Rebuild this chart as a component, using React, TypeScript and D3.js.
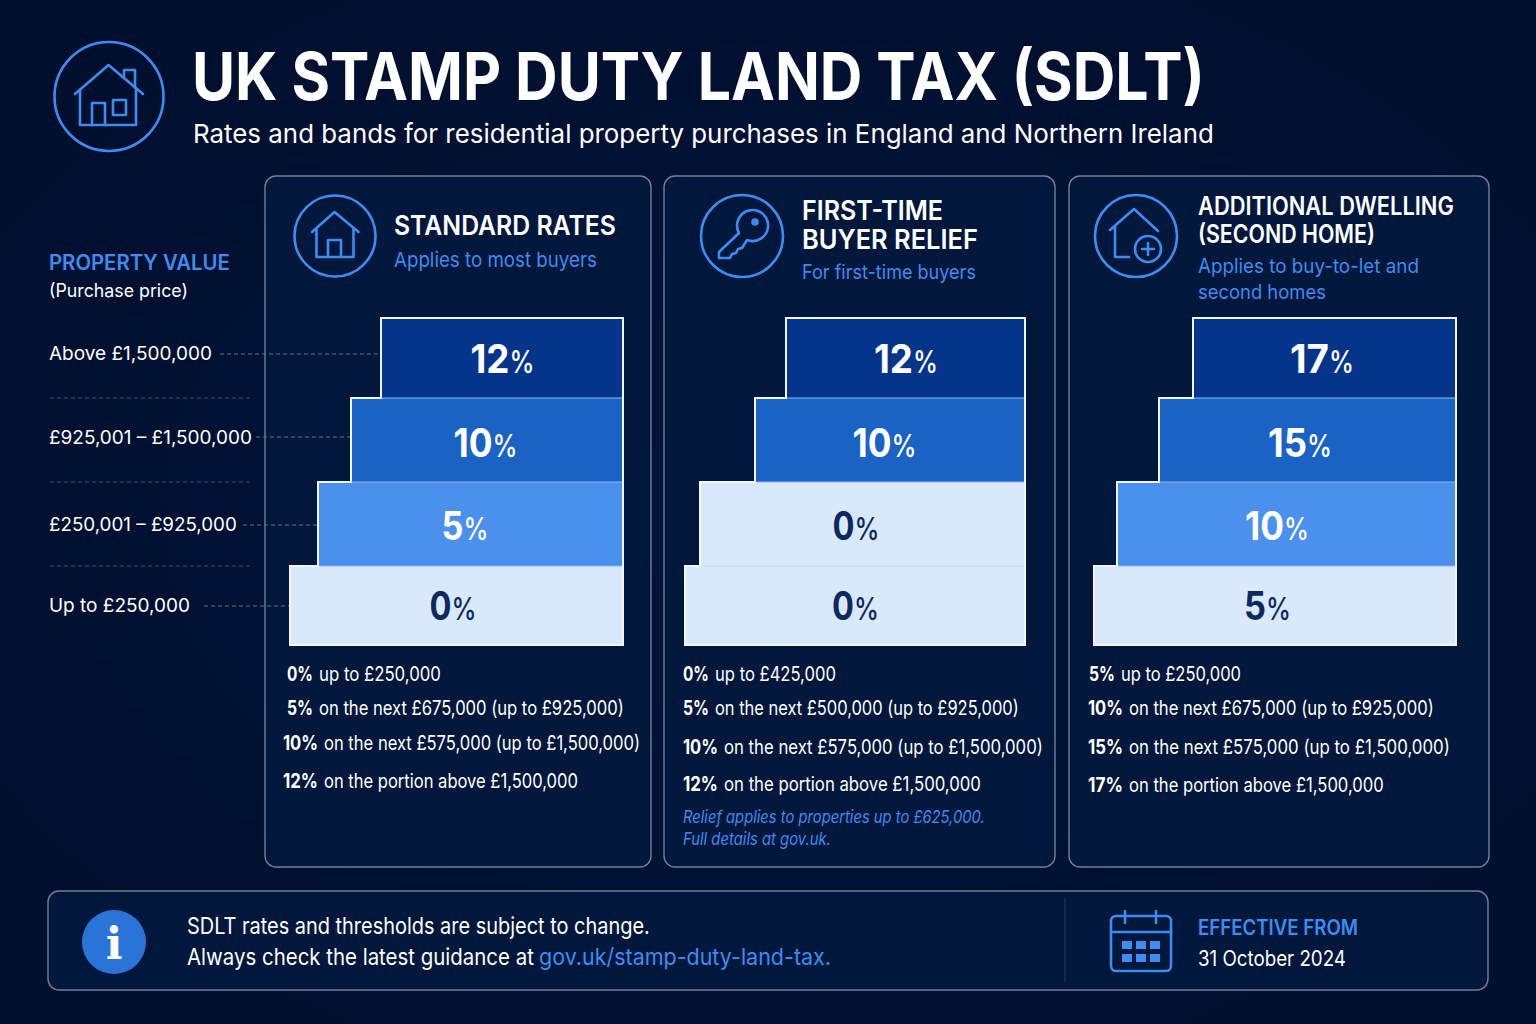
import * as d3 from "d3";
import React from "react";

const BANDS = ["Above £1,500,000", "£925,001 – £1,500,000", "£250,001 – £925,000", "Up to £250,000"];
const STANDARD_RATES = [12, 10, 5, 0];
const FIRST_TIME_RATES = [12, 10, 0, 0];
const ADDITIONAL_RATES = [17, 15, 10, 5];

const STANDARD_NOTES = [
  ["0%", "up to £250,000"],
  ["5%", "on the next £675,000 (up to £925,000)"],
  ["10%", "on the next £575,000 (up to £1,500,000)"],
  ["12%", "on the portion above £1,500,000"],
];
const FIRST_TIME_NOTES = [
  ["0%", "up to £425,000"],
  ["5%", "on the next £500,000 (up to £925,000)"],
  ["10%", "on the next £575,000 (up to £1,500,000)"],
  ["12%", "on the portion above £1,500,000"],
];
const ADDITIONAL_NOTES = [
  ["5%", "up to £250,000"],
  ["10%", "on the next £675,000 (up to £925,000)"],
  ["15%", "on the next £575,000 (up to £1,500,000)"],
  ["17%", "on the portion above £1,500,000"],
];

// layout only below here
const FONT = "Inter, 'Noto Sans', sans-serif";
const BLUE = "#3f8cf0";
const WHITE = "#ffffff";
const INK = "#0c2a5e";
const PALE = "#d9e8fb";
const RAMP = ["#04358a", "#1a63c4", "#4a90ec", PALE];
const BORDER = "#717f98";
const PANEL_FILL = "#01173b";

const stairTop = 318;
const stairBottom = 645;
const bandY = d3.scaleOrdinal<string, number>().domain(BANDS).range([318, 398, 482, 566]);
const bandEdges = (b: string, i: number) => (i === BANDS.length - 1 ? stairBottom : bandY(BANDS[i + 1]));
const LABEL_DROP = [15, 17, 16, 14.5];

const PANELS = [
  {
    x: 265, w: 386, rates: STANDARD_RATES, notes: STANDARD_NOTES, right: 623,
    widths: [242, 272, 305, 333], nudge: [0, -2, -6, -4],
    noteX: [287, 287, 283, 283], noteEnd: [441, 624, 640, 578], noteBase: [681, 715, 750, 788],
  },
  {
    x: 664, w: 391, rates: FIRST_TIME_RATES, notes: FIRST_TIME_NOTES, right: 1025,
    widths: [239, 270, 325, 340], nudge: [0, -6, -7, 0],
    noteX: [683, 683, 683, 683], noteEnd: [836, 1019, 1043, 981], noteBase: [681, 715, 754, 791],
  },
  {
    x: 1069, w: 420, rates: ADDITIONAL_RATES, notes: ADDITIONAL_NOTES, right: 1456,
    widths: [263, 297, 339, 362], nudge: [-3, -8, -10, -8],
    noteX: [1089, 1088, 1088, 1088], noteEnd: [1241, 1434, 1450, 1384], noteBase: [681, 715, 754, 792],
  },
];

const LEADERS = [
  { labelEnd: 212, base: 360, from: 220, y: 354 },
  { labelEnd: 252, base: 444, from: 256, y: 437 },
  { labelEnd: 237, base: 531, from: 243, y: 525 },
  { labelEnd: 190, base: 612, from: 204, y: 606 },
];

const ctx = document.createElement("canvas").getContext("2d")!;
const measure = (s: string, size: number, weight: number, italic: boolean) => {
  ctx.font = `${italic ? "italic " : ""}${weight} ${size}px Inter`;
  return ctx.measureText(s).width;
};

// the picture's type is narrower than Inter, so squeeze each text to its width there
const T = ({ x, end, y, size, weight = 400, fill = WHITE, italic = false, children }: any) => {
  const sx = (end - x) / measure(children, size, weight, italic);
  return (
    <text
      transform={`translate(${x},${y}) scale(${sx},1)`}
      fontFamily={FONT}
      fontSize={size}
      fontWeight={weight}
      fontStyle={italic ? "italic" : "normal"}
      fill={fill}
    >
      {children}
    </text>
  );
};

const Stair = ({ panel }: any) => {
  const widthOf = d3.scaleOrdinal<string, number>().domain(BANDS).range(panel.widths);
  const outline = d3.path();
  outline.moveTo(panel.right, stairBottom);
  outline.lineTo(panel.right, stairTop);
  BANDS.forEach((b, i) => {
    const left = panel.right - widthOf(b);
    outline.lineTo(left, bandY(b));
    outline.lineTo(left, bandEdges(b, i));
  });
  outline.closePath();

  return (
    <g>
      {BANDS.map((b, i) => (
        <rect
          key={b}
          x={panel.right - widthOf(b)}
          y={bandY(b)}
          width={widthOf(b)}
          height={bandEdges(b, i) - bandY(b)}
          fill={panel.rates[i] === 0 ? PALE : RAMP[i]}
        />
      ))}
      {BANDS.slice(1).map((b, i) => (
        <line
          key={b}
          x1={panel.right - widthOf(BANDS[i])}
          x2={panel.right}
          y1={bandY(b)}
          y2={bandY(b)}
          stroke={panel.rates[i] === 0 ? "#c3d6ee" : "#8fb8ee"}
          strokeWidth={1}
        />
      ))}
      <path d={outline.toString()} fill="none" stroke="#f2f6fc" strokeWidth={2} />
      {BANDS.map((b, i) => {
        const rate = panel.rates[i];
        const fill = rate === 0 || i === 3 ? INK : WHITE;
        const numW = String(rate).length === 1 ? 22 : 39;
        const left = panel.right - widthOf(b) / 2 + panel.nudge[i] - (numW + 24) / 2;
        const y = (bandY(b) + bandEdges(b, i)) / 2 + LABEL_DROP[i];
        return (
          <g key={b}>
            <T x={left} end={left + numW} y={y} size={39} weight={700} fill={fill}>{String(rate)}</T>
            <T x={left + numW} end={left + numW + 25} y={y} size={31} weight={500} fill={fill}>%</T>
          </g>
        );
      })}
    </g>
  );
};

const Notes = ({ panel }: any) => (
  <g>
    {panel.notes.map((n: string[], i: number) => {
      const boldW = n[0].length === 2 ? 26 : 35;
      const x = panel.noteX[i];
      return (
        <g key={n[0]}>
          <T x={x} end={x + boldW} y={panel.noteBase[i]} size={20} weight={700}>{n[0]}</T>
          <T x={x + boldW + 6} end={panel.noteEnd[i]} y={panel.noteBase[i]} size={20}>{n[1]}</T>
        </g>
      );
    })}
  </g>
);

const iconProps = { fill: "none", stroke: BLUE, strokeWidth: 2.6, strokeLinejoin: "round" as const, strokeLinecap: "round" as const };

const TitleIcon = () => (
  <g {...iconProps}>
    <circle cx={109} cy={96.5} r={54.5} />
    <path d="M75 94 L108.5 65 L143 94" />
    <path d="M124 78 V70 H135 V88" />
    <path d="M80 90 V125 H136 V90" />
    <path d="M92 125 V103 H105 V125" />
    <rect x={113} y={100} width={13} height={15} />
  </g>
);

const StandardIcon = () => (
  <g {...iconProps}>
    <circle cx={335} cy={236} r={40.5} />
    <path d="M312 232 L334.5 212 L358.5 232" />
    <path d="M316.5 229 V257 H353.5 V229" />
    <path d="M328 257 V240 H341 V257" />
  </g>
);

const KeyIcon = () => (
  <g {...iconProps}>
    <circle cx={742} cy={236} r={41} />
    <path d="M739 233 L719 252 V258 H730 L732 254 L736 253 L738 249 L742 248 L747 240 A15.5 15.5 0 1 0 739 233 Z" />
    <circle cx={755} cy={222} r={2.5} fill={BLUE} />
  </g>
);

const SecondHomeIcon = () => (
  <g {...iconProps}>
    <circle cx={1136} cy={236} r={41} />
    <path d="M1110 230 L1134 209 L1158 231" />
    <path d="M1115 227 V257 H1129" />
    <circle cx={1148} cy={249} r={13} />
    <path d="M1148 243 V255 M1142 249 H1154" />
  </g>
);

const CalendarIcon = () => {
  const cols = [1122, 1136, 1150];
  const rows = [941, 954];
  return (
    <g {...iconProps}>
      <rect x={1111} y={916} width={60} height={55} rx={5} />
      <path d="M1111 932 H1171 M1125 911 V923 M1156 911 V923" />
      {rows.map((r) =>
        cols.map((c) => <rect key={c + "-" + r} x={c} y={r} width={10} height={8} fill={BLUE} stroke="none" />)
      )}
    </g>
  );
};

const App = () => {
  return (
    <svg width={1536} height={1024} style={{ position: "absolute", left: 0, top: 0, display: "block" }}>
      <defs>
        <radialGradient id="bg" cx="50%" cy="50%" r="75%">
          <stop offset="0%" stopColor="#01143a" />
          <stop offset="100%" stopColor="#010e2c" />
        </radialGradient>
      </defs>
      <rect width={1536} height={1024} fill="url(#bg)" />

      <TitleIcon />
      <T x={192} end={1205} y={100} size={66} weight={700}>UK STAMP DUTY LAND TAX (SDLT)</T>
      <T x={193} end={1214} y={143} size={26}>Rates and bands for residential property purchases in England and Northern Ireland</T>

      {PANELS.map((p) => (
        <rect key={p.x} x={p.x} y={176} width={p.w} height={691} rx={11} fill={PANEL_FILL} stroke={BORDER} strokeWidth={1.4} />
      ))}

      <T x={49} end={230} y={270} size={21} weight={600} fill={BLUE}>PROPERTY VALUE</T>
      <T x={49} end={188} y={297} size={18}>(Purchase price)</T>
      {BANDS.map((b, i) => (
        <g key={b}>
          <T x={49} end={LEADERS[i].labelEnd} y={LEADERS[i].base} size={19}>{b}</T>
          <line
            x1={LEADERS[i].from}
            x2={PANELS[0].right - PANELS[0].widths[i]}
            y1={LEADERS[i].y}
            y2={LEADERS[i].y}
            stroke="#5f7190"
            strokeWidth={1}
            strokeDasharray="4 3"
          />
          {i > 0 && (
            <line x1={50} x2={250} y1={bandY(b)} y2={bandY(b)} stroke="#3d4f70" strokeWidth={1} strokeDasharray="4 3" />
          )}
        </g>
      ))}

      <StandardIcon />
      <T x={394} end={616} y={235} size={27} weight={600}>STANDARD RATES</T>
      <T x={394} end={597} y={267} size={20.5} fill={BLUE}>Applies to most buyers</T>

      <KeyIcon />
      <T x={802} end={943} y={220} size={27} weight={600}>FIRST-TIME</T>
      <T x={802} end={978} y={249} size={27} weight={600}>BUYER RELIEF</T>
      <T x={802} end={976} y={279} size={20} fill={BLUE}>For first-time buyers</T>

      <SecondHomeIcon />
      <T x={1198} end={1454} y={215} size={25} weight={600}>ADDITIONAL DWELLING</T>
      <T x={1198} end={1375} y={243} size={25} weight={600}>(SECOND HOME)</T>
      <T x={1198} end={1419} y={273} size={20} fill={BLUE}>Applies to buy-to-let and</T>
      <T x={1198} end={1326} y={299} size={20} fill={BLUE}>second homes</T>

      {PANELS.map((p) => (
        <g key={p.x}>
          <Stair panel={p} />
          <Notes panel={p} />
        </g>
      ))}

      <T x={683} end={985} y={823} size={17} fill={BLUE} italic>Relief applies to properties up to £625,000.</T>
      <T x={683} end={831} y={845} size={17} fill={BLUE} italic>Full details at gov.uk.</T>

      <rect x={48} y={891} width={1440} height={99} rx={11} fill={PANEL_FILL} stroke={BORDER} strokeWidth={1.4} />
      <circle cx={114} cy={942} r={32} fill="#2a74d8" />
      <text x={114} y={959} textAnchor="middle" fontFamily="'DejaVu Serif', serif" fontWeight={700} fontSize={44} fill={WHITE}>i</text>
      <T x={187} end={650} y={934} size={23}>SDLT rates and thresholds are subject to change.</T>
      <T x={187} end={534} y={965} size={23}>Always check the latest guidance at</T>
      <T x={539} end={831} y={965} size={23} fill={BLUE}>gov.uk/stamp-duty-land-tax.</T>
      <line x1={1065} x2={1065} y1={898} y2={982} stroke="#2a3d60" strokeWidth={1} />
      <CalendarIcon />
      <T x={1198} end={1358} y={935} size={21} weight={600} fill={BLUE}>EFFECTIVE FROM</T>
      <T x={1198} end={1346} y={966} size={21}>31 October 2024</T>
    </svg>
  );
};

export default App;
